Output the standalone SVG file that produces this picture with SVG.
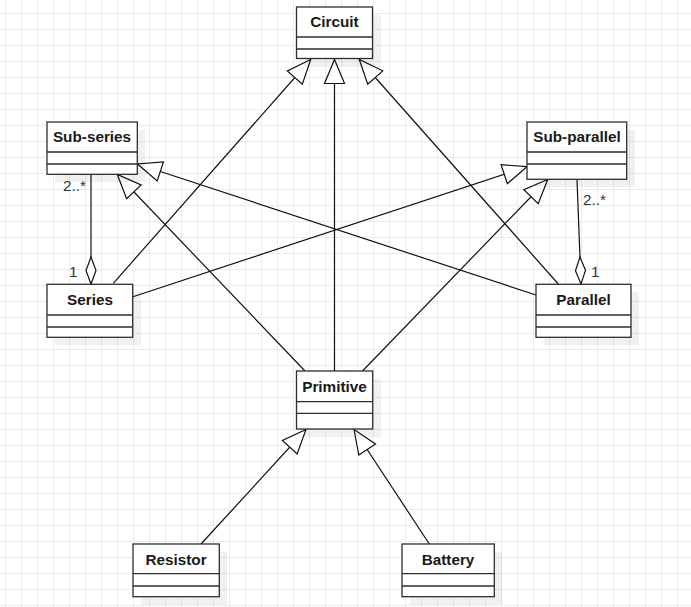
<svg xmlns="http://www.w3.org/2000/svg" width="691" height="607" viewBox="0 0 691 607">
<style>
.box{fill:#fff;stroke:#2e2e2e;stroke-width:1.3}
.sh{fill:#000;fill-opacity:0.055}
.div{stroke:#2e2e2e;stroke-width:1.3}
.title{font-family:"Liberation Sans",Arial,sans-serif;font-weight:bold;font-size:15.3px;fill:#1a1a1a;text-anchor:middle}
.lbl{font-family:"Liberation Sans",Arial,sans-serif;font-size:15.3px;fill:#333}
.edge{fill:none;stroke:#111;stroke-width:1.2}
</style>
<defs>
<pattern id="grid" patternUnits="userSpaceOnUse" x="5" y="13" width="16" height="16">
<path d="M0,0.5 H16 M0.5,0 V16" stroke="#ebebeb" stroke-width="1" fill="none"/>
</pattern>
<marker id="tri" markerUnits="userSpaceOnUse" orient="auto" overflow="visible" markerWidth="1" markerHeight="1">
<path d="M0,0 L-24,-10 L-24,10 Z" fill="#fff" stroke="#111" stroke-width="1.2"/>
</marker>
<marker id="dia" markerUnits="userSpaceOnUse" orient="auto" overflow="visible" markerWidth="1" markerHeight="1">
<path d="M0,0 L13.5,-5 L27,0 L13.5,5 Z" fill="#fff" stroke="#111" stroke-width="1.2"/>
</marker>
</defs>
<rect width="691" height="607" fill="#fff"/>
<rect width="691" height="607" fill="url(#grid)"/>

<g id="connectors">
<path class="edge" d="M113.3,283.3 L310.7,59.5" marker-end="url(#tri)"/>
<path class="edge" d="M334.5,371 L334.5,59.5" marker-end="url(#tri)"/>
<path class="edge" d="M558.3,284 L359.3,59.5" marker-end="url(#tri)"/>
<path class="edge" d="M536,295 L137.5,164" marker-end="url(#tri)"/>
<path class="edge" d="M305,371 L117.3,174.5" marker-end="url(#tri)"/>
<path class="edge" d="M133,296.7 L527,166.7" marker-end="url(#tri)"/>
<path class="edge" d="M362.5,371 L547.7,179.5" marker-end="url(#tri)"/>
<path class="edge" d="M91,284 L91,174.5" marker-start="url(#dia)"/>
<path class="edge" d="M581,284 L577,179.5" marker-start="url(#dia)"/>
<path class="edge" d="M201,544 L306,429.5" marker-end="url(#tri)"/>
<path class="edge" d="M429.3,544 L354,429.5" marker-end="url(#tri)"/>
<text class="lbl" x="63" y="191">2..*</text>
<text class="lbl" x="69" y="277">1</text>
<text class="lbl" x="583" y="205">2..*</text>
<text class="lbl" x="591" y="277">1</text>
</g>

<g id="circuit">
<rect class="sh" x="304" y="15" width="77" height="52"/>
<rect class="box" x="296.5" y="7" width="76" height="51.5"/>
<path class="div" d="M296.5,37 H372.5 M296.5,49 H372.5"/>
<text class="title" x="334.5" y="27.3">Circuit</text>
</g>

<g id="sub-series">
<rect class="sh" x="55" y="130" width="90" height="52"/>
<rect class="box" x="47" y="122" width="90.3" height="52.3"/>
<path class="div" d="M47,152 H137.3 M47,164 H137.3"/>
<text class="title" x="92" y="142.3">Sub-series</text>
</g>

<g id="sub-parallel">
<rect class="sh" x="535" y="130" width="100" height="57"/>
<rect class="box" x="527" y="122" width="99.7" height="57.3"/>
<path class="div" d="M527,152 H626.7 M527,164 H626.7"/>
<text class="title" x="577" y="142.3">Sub-parallel</text>
</g>

<g id="series">
<rect class="sh" x="55" y="292" width="86" height="53"/>
<rect class="box" x="47" y="284.3" width="85.7" height="53"/>
<path class="div" d="M47,315 H132.7 M47,327 H132.7"/>
<text class="title" x="90" y="304.8">Series</text>
</g>

<g id="parallel">
<rect class="sh" x="544" y="292" width="95" height="53"/>
<rect class="box" x="536" y="284.3" width="95" height="53"/>
<path class="div" d="M536,315 H631 M536,327 H631"/>
<text class="title" x="583.5" y="304.8">Parallel</text>
</g>

<g id="primitive">
<rect class="sh" x="304" y="379" width="77" height="58"/>
<rect class="box" x="296.5" y="371" width="76.2" height="58"/>
<path class="div" d="M296.5,401.7 H372.7 M296.5,413.3 H372.7"/>
<text class="title" x="334.5" y="391.5">Primitive</text>
</g>

<g id="resistor">
<rect class="sh" x="141" y="552" width="86" height="53"/>
<rect class="box" x="133" y="544" width="86.3" height="52.7"/>
<path class="div" d="M133,573.7 H219.3 M133,586 H219.3"/>
<text class="title" x="176" y="564.5">Resistor</text>
</g>

<g id="battery">
<rect class="sh" x="410" y="552" width="92" height="53"/>
<rect class="box" x="402" y="544" width="92.3" height="52.7"/>
<path class="div" d="M402,573.7 H494.3 M402,586 H494.3"/>
<text class="title" x="448" y="564.5">Battery</text>
</g>
</svg>
